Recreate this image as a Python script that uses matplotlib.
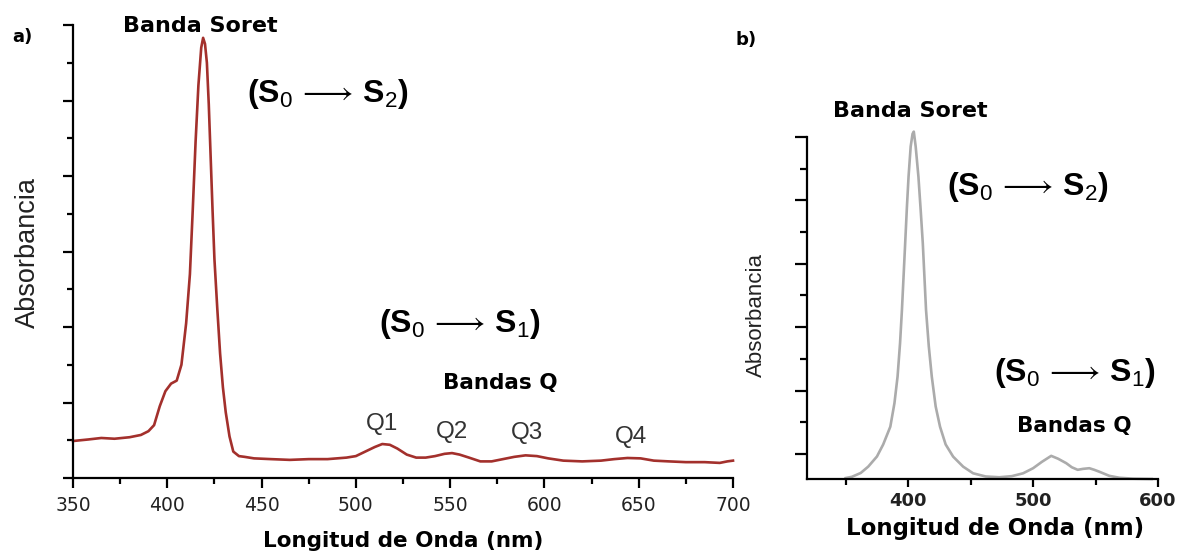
import matplotlib
matplotlib.use('Agg')
import matplotlib.pyplot as plt
from matplotlib.ticker import MultipleLocator

# ---------------- data ----------------
# panel a) : UV-vis spectrum (arbitrary absorbance units)
wl_a = [350, 358, 365, 372, 380, 386, 390, 393, 396, 399, 402, 405, 407.5, 410,
        412, 413.5, 415, 416.5, 418, 419, 420, 421, 422, 423, 424, 425, 426.5,
        428, 429.5, 431, 433, 435, 438, 441, 446, 455, 465, 475, 485, 495, 500,
        505, 510, 514, 518, 522, 527, 532, 537, 542, 547, 551, 555, 560, 566,
        572, 578, 584, 590, 596, 602, 610, 620, 630, 637, 644, 651, 658, 666,
        675, 685, 693, 697, 700]
abs_a = [0.49, 0.51, 0.53, 0.52, 0.54, 0.57, 0.62, 0.70, 0.95, 1.15, 1.25, 1.29, 1.50, 2.05,
         2.70, 3.55, 4.45, 5.20, 5.70, 5.83, 5.75, 5.50, 4.95, 4.25, 3.55, 2.90, 2.25,
         1.65, 1.20, 0.87, 0.55, 0.35, 0.29, 0.28, 0.26, 0.25, 0.24, 0.25, 0.25, 0.27, 0.29,
         0.35, 0.41, 0.45, 0.44, 0.39, 0.31, 0.27, 0.27, 0.29, 0.32, 0.33, 0.31, 0.27, 0.22,
         0.22, 0.25, 0.28, 0.30, 0.29, 0.26, 0.23, 0.22, 0.23, 0.25, 0.265, 0.26, 0.23, 0.22,
         0.21, 0.21, 0.20, 0.22, 0.23]

# panel b)
wl_b = [350, 355, 362, 368, 375, 380, 385.7, 389, 391.5, 393.5, 395, 397.6, 399, 400.3,
        402, 403.5, 404.5, 406, 408.2, 410, 411.7, 414.3, 416.5, 418.9, 422, 425.5, 430,
        436, 444, 452, 462, 473, 483, 492, 500, 507, 514.5, 520, 526.5, 531, 535.7, 540,
        545, 549, 553, 561, 569, 580, 595]
abs_b = [-0.76, -0.72, -0.60, -0.40, -0.08, 0.30, 0.86, 1.60, 2.44, 3.50, 4.54, 6.65, 7.80, 8.75,
         9.70, 10.10, 10.17, 9.70, 8.75, 7.70, 6.65, 4.54, 3.40, 2.44, 1.50, 0.86, 0.30,
         -0.085, -0.40, -0.61, -0.71, -0.735, -0.70, -0.61, -0.45, -0.25, -0.06, -0.15, -0.29, -0.42, -0.50, -0.47,
         -0.45, -0.50, -0.56, -0.69, -0.75, -0.78, -0.79]

q_labels = ['Q1', 'Q2', 'Q3', 'Q4']
q_pos_a = [(382, 424), (452, 432), (527, 433), (631, 437)]  # pixel positions

xlabel = 'Longitud de Onda (nm)'
ylabel = 'Absorbancia'

# ---------------- figure ----------------
plt.rcParams['mathtext.fontset'] = 'custom'
plt.rcParams['mathtext.rm'] = 'Liberation Sans'
plt.rcParams['mathtext.it'] = 'Liberation Sans:italic'
plt.rcParams['mathtext.bf'] = 'Liberation Sans:bold'
plt.rcParams['mathtext.fallback'] = 'stixsans'

W, H = 1182, 554
fig = plt.figure(figsize=(W / 100, H / 100), dpi=100)


def fx(px):
    return px / W


def fy(py):
    return 1 - py / H


BOLD = dict(family='DejaVu Sans', weight='bold')

# ---- panel a ----
axa = fig.add_axes([fx(73), fy(478), 660 / W, 453 / H])
axa.plot(wl_a, abs_a, color='#a3302c', lw=1.9, clip_on=False)
axa.set_xlim(350, 700)
axa.set_ylim(0, 6)
for s in ['top', 'right']:
    axa.spines[s].set_visible(False)
for s in ['left', 'bottom']:
    axa.spines[s].set_linewidth(1.6)
axa.xaxis.set_major_locator(MultipleLocator(50))
axa.xaxis.set_minor_locator(MultipleLocator(25))
axa.yaxis.set_major_locator(MultipleLocator(1))
axa.yaxis.set_minor_locator(MultipleLocator(0.5))
axa.tick_params(axis='y', which='major', length=7, width=1.6, labelleft=False)
axa.tick_params(axis='y', which='minor', length=4, width=1.6)
axa.tick_params(axis='x', which='major', length=7, width=1.6, labelsize=13.5,
                pad=6, labelcolor='#222222')
axa.tick_params(axis='x', which='minor', length=4, width=1.6)
for lab in axa.get_xticklabels():
    lab.set_family('DejaVu Sans')

# ---- panel b ----
axb = fig.add_axes([fx(807), fy(479), 351 / W, 342 / H])
axb.plot(wl_b, abs_b, color='#ababab', lw=1.9, clip_on=False)
axb.set_xlim(319, 600)
axb.set_ylim(-0.79, 10)
for s in ['top', 'right']:
    axb.spines[s].set_visible(False)
for s in ['left', 'bottom']:
    axb.spines[s].set_linewidth(1.6)
axb.xaxis.set_major_locator(MultipleLocator(100))
axb.xaxis.set_minor_locator(MultipleLocator(50))
axb.yaxis.set_major_locator(MultipleLocator(2))
axb.yaxis.set_minor_locator(MultipleLocator(1))
axb.tick_params(axis='y', which='major', length=9, width=1.6, labelleft=False)
axb.tick_params(axis='y', which='minor', length=5, width=1.6)
axb.tick_params(axis='x', which='major', length=6, width=1.6, labelsize=13,
                pad=3, labelcolor='#222222')
axb.tick_params(axis='x', which='minor', length=4, width=1.6)
axb.set_xticks([400, 500, 600])
for lab in axb.get_xticklabels():
    lab.set_fontweight('bold')

# ---- texts ----
fig.text(fx(22), fy(37), 'a)', ha='center', va='center', fontsize=13, **BOLD)
fig.text(fx(746), fy(40), 'b)', ha='center', va='center', fontsize=13, **BOLD)

fig.text(fx(200), fy(26), 'Banda Soret', ha='center', va='center', fontsize=16, **BOLD)
fig.text(fx(910), fy(111), 'Banda Soret', ha='center', va='center', fontsize=16, **BOLD)

fig.text(fx(500), fy(383), 'Bandas Q', ha='center', va='center', fontsize=15.5, **BOLD)
fig.text(fx(1074), fy(426), 'Bandas Q', ha='center', va='center', fontsize=15.5, **BOLD)

s2 = r'$\mathbf{(S}_0\,\longrightarrow\,\mathbf{S}_2\mathbf{)}$'
s1 = r'$\mathbf{(S}_0\,\longrightarrow\,\mathbf{S}_1\mathbf{)}$'
fig.text(fx(328), fy(94), s2, ha='center', va='center', fontsize=23)
fig.text(fx(460), fy(324), s1, ha='center', va='center', fontsize=23)
fig.text(fx(1028), fy(187), s2, ha='center', va='center', fontsize=23)
fig.text(fx(1075), fy(373), s1, ha='center', va='center', fontsize=23)

for lab, (px, py) in zip(q_labels, q_pos_a):
    fig.text(fx(px), fy(py), lab, ha='center', va='center', fontsize=17.5,
             family='Liberation Sans', color='#333333')

fig.text(fx(403), fy(541), xlabel, ha='center', va='center', fontsize=15.5, **BOLD)
fig.text(fx(995), fy(528), xlabel, ha='center', va='center', fontsize=16.5, **BOLD)

fig.text(fx(28), fy(253), ylabel, ha='center', va='center', rotation=90,
         fontsize=19.5, family='Liberation Sans', color='#222222')
fig.text(fx(756), fy(315), ylabel, ha='center', va='center', rotation=90,
         fontsize=16, family='Liberation Sans', color='#222222')

fig.savefig('out.png', dpi=100)
